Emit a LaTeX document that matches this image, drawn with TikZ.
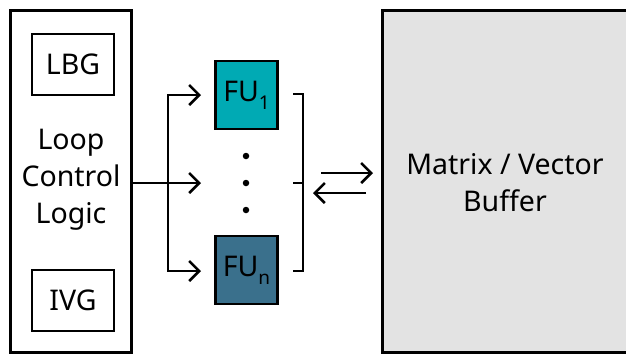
\documentclass[tikz,border=0pt]{standalone}
\usepackage{fontspec}
\setmainfont{Noto Sans}
\usetikzlibrary{arrows.meta}
\definecolor{fuA}{RGB}{0,170,180}
\definecolor{fuB}{RGB}{58,112,140}
\definecolor{bufgray}{RGB}{227,227,227}
\newcommand{\bigtxt}{\fontsize{28.5}{37}\selectfont}
\newcommand{\subtxt}[1]{\raisebox{-8pt}{\fontsize{19}{19}\selectfont #1}}
\tikzset{
  outerbox/.style={draw=black, line width=3pt, inner sep=0pt},
  innerbox/.style={draw=black, line width=2.6pt, inner sep=0pt, minimum width=82pt, minimum height=61pt, font=\bigtxt},
  fubox/.style={draw=black, line width=2.6pt, inner sep=0pt, minimum width=62pt, minimum height=68pt, font=\bigtxt},
  conn/.style={line width=2.5pt},
  tip/.style={-{Straight Barb[length=10pt,width=20pt,line width=2.5pt]}},
  dtip/.style={{Straight Barb[length=10pt,width=20pt,line width=2.5pt]}-{Straight Barb[length=10pt,width=20pt,line width=2.5pt]}},
  dotc/.style={fill=black, circle, inner sep=0pt, minimum size=6.5pt}
}
\begin{document}
\begin{tikzpicture}[x=1pt,y=-1pt]
\useasboundingbox (0,0) rectangle (626,354);
% left block
\node[outerbox, minimum width=121pt, minimum height=342pt] (lcl) at (70.5,181) {};
\node[innerbox] (lbg) at (73,64.5) {LBG};
\node[innerbox] (ivg) at (73,300.5) {IVG};
\node[align=center, font=\bigtxt, inner sep=0pt] (lcltxt) at (71,180) {Loop\\Control\\Logic};
% buffer
\node[outerbox, fill=bufgray, minimum width=270pt, minimum height=342pt] (buf) at (517,181) {};
\node[align=center, font=\bigtxt, inner sep=0pt] (buftxt) at (505,183) {Matrix / Vector\\Buffer};
% FUs
\node[fubox, fill=fuA] (fu1) at (246.5,95) {FU\subtxt{1}};
\node[fubox, fill=fuB] (fun) at (246.5,270) {FU\subtxt{n}};
\node[dotc] (d1) at (246,156) {};
\node[dotc] (d2) at (246,183) {};
\node[dotc] (d3) at (246,210) {};
% fan-out
\coordinate (a1) at (201,95);
\coordinate (a2) at (201,183);
\coordinate (a3) at (201,271);
\coordinate (jt) at (168,95);
\coordinate (jb) at (168,271);
\draw[conn, tip] (lcl.east |- a2) -- (a2);
\draw[conn, dtip] (a1) -- (jt) -- (jb) -- (a3);
% bracket
\coordinate (bt) at (293,94);
\coordinate (bb) at (293,271);
\coordinate (bm) at (293,183);
\draw[conn] (bt) -- ++(10,0) -- ++(0,177) -- (bb);
\draw[conn] (bm) -- ++(10,0);
% bidirectional
\coordinate (r1s) at (321,173);
\coordinate (r1e) at (373,173);
\coordinate (r2s) at (366,193);
\coordinate (r2e) at (313,193);
\draw[conn, tip] (r1s) -- (r1e);
\draw[conn, tip] (r2s) -- (r2e);
\end{tikzpicture}
\end{document}
